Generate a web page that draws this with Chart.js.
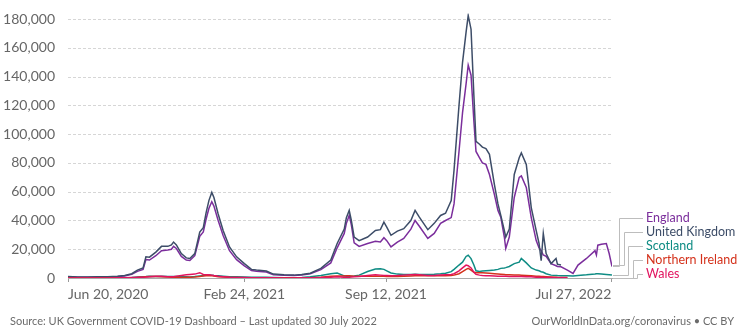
<!DOCTYPE html>
<html>
<head>
<meta charset="utf-8">
<script src="https://cdn.jsdelivr.net/npm/chart.js@4.4.1/dist/chart.umd.min.js"></script>
<style>
  html, body { margin: 0; padding: 0; background: #fff; }
  #wrap { width: 741px; height: 335px; }
</style>
</head>
<body>
<div id="wrap"><canvas id="casesChart" width="741" height="335"></canvas></div>
<script>
// days since Jun 20, 2020
const days = [0, 14, 28, 42, 56, 70, 80, 90, 98, 106,
  110, 115, 124, 132, 141, 146, 149, 153, 160, 167,
  172, 179, 186, 191, 195, 199, 203, 206, 212, 219,
  228, 238, 249, 259, 266, 280, 290, 305, 319, 330,
  342, 357, 371, 380, 390, 393, 397, 400, 404, 411,
  423, 434, 441, 446, 450, 456, 465, 474, 484, 490,
  496, 508, 517, 526, 533, 541, 545, 552, 557, 562,
  565, 569, 573, 576, 581, 585, 590, 595, 602, 607,
  611, 616, 618, 623, 630, 637, 640, 647, 654, 661,
  665, 668, 671, 675, 682, 689, 691, 696, 705, 713,
  720, 732, 744, 746, 748, 753, 760, 764, 768];

const ukCases = [1000, 700, 700, 800, 950, 1200, 1700, 3000, 5500, 7000,
  14700, 14500, 18000, 22000, 22000, 23000, 25000, 23000, 17000, 14000,
  13600, 17000, 32000, 35000, 45500, 54000, 59500, 56000, 44500, 33000,
  21600, 14700, 10000, 6000, 5500, 4800, 2700, 2200, 2000, 2400,
  3300, 6700, 12500, 24000, 34000, 42000, 47000, 40000, 28500, 26000,
  28500, 33000, 33600, 38800, 35400, 29700, 32600, 34300, 40000, 47000,
  42300, 33600, 38000, 43500, 45000, 53800, 75000, 120000, 150000, 171000,
  182500, 173000, 127000, 95000, 93000, 91000, 90000, 86000, 65000, 51500,
  43500, 33000, 28500, 34000, 72000, 83600, 87000, 79000, 49000, 33000,
  24000, 12000, 31000, 17000, 10000, 13600, 9500, 9000, null, null,
  null, null, null, null, null, null, null, null, null];

const englandCases = [800, 550, 550, 650, 800, 1000, 1400, 2500, 4600, 6000,
  12800, 12500, 15500, 19000, 19500, 20000, 22000, 20500, 15000, 12500,
  12200, 15500, 29000, 32000, 41000, 48500, 53000, 50000, 40000, 29500,
  19000, 12800, 8500, 5200, 4700, 4100, 2300, 1900, 1800, 2100,
  2900, 5800, 10500, 21000, 31000, 38000, 43500, 37000, 24500, 22000,
  24000, 25500, 25000, 28000, 26000, 21600, 25000, 27500, 34000, 40000,
  36000, 27500, 31000, 38000, 40000, 42000, 51500, 88000, 115000, 135000,
  148000, 141000, 109000, 88000, 83600, 80000, 79000, 72000, 58000, 47000,
  42300, 28500, 20500, 28500, 56000, 70000, 71000, 63000, 42000, 26000,
  21000, 19000, 16000, 15000, 10000, 8500, 8000, 7800, 5500, 3200,
  9000, 13600, 19000, 16000, 22800, 23500, 24000, 17000, 8000];

const scotlandCases = [30, 20, 20, 40, 60, 100, 200, 400, 700, 900,
  1000, 1200, 1100, 1200, 1100, 1100, 1100, 1000, 900, 800,
  700, 1000, 1400, 1700, 2000, 2100, 2000, 1800, 1500, 1200,
  900, 800, 650, 600, 550, 500, 350, 250, 250, 400,
  800, 1800, 3000, 3400, 1500, 1200, 1200, 1300, 1400, 2000,
  4500, 6200, 6500, 6000, 5000, 3500, 2700, 2400, 2500, 2600,
  2500, 2500, 2600, 2900, 3300, 4400, 6000, 9000, 11000, 15000,
  15900, 13500, 9000, 5000, 4500, 4800, 5000, 5200, 5500, 6000,
  6700, 7000, 7200, 8000, 10000, 11000, 13600, 10500, 7000, 5500,
  5000, 4400, 4000, 3000, 2000, 1800, 1700, 1600, 1500, 1400,
  1800, 2200, 2800, 3000, 3000, 2800, 2500, 2300, 2000];

const niCases = [10, 10, 20, 30, 50, 80, 120, 200, 400, 700,
  900, 1000, 1000, 900, 700, 600, 500, 450, 400, 450,
  500, 700, 1100, 1400, 1600, 1700, 1600, 1300, 900, 700,
  500, 400, 250, 200, 150, 120, 100, 90, 90, 120,
  200, 600, 1200, 1400, 1400, 1500, 1500, 1400, 1300, 1300,
  1300, 1300, 1200, 1200, 1100, 1000, 1100, 1300, 1400, 1500,
  1500, 1500, 1500, 1500, 1600, 1700, 2000, 3000, 4500, 6000,
  6700, 5500, 4000, 3700, 3700, 3600, 3500, 3300, 3000, 2800,
  2600, 2400, 2300, 2200, 2100, 2000, 1900, 1700, 1500, 1300,
  1200, 1100, 1000, 900, 700, 500, 450, 400, 300, null,
  null, null, null, null, null, null, null, null, null];

const walesCases = [30, 20, 20, 30, 40, 100, 150, 300, 500, 600,
  700, 900, 1200, 1200, 900, 800, 900, 1300, 1800, 2200,
  2400, 2700, 3700, 2500, 2200, 2300, 2000, 1700, 1200, 900,
  600, 400, 300, 250, 200, 150, 100, 80, 80, 100,
  150, 300, 600, 800, 500, 500, 600, 700, 900, 1100,
  1700, 2200, 2000, 1800, 1700, 1600, 1700, 2000, 2300, 2500,
  2300, 1800, 1800, 2000, 2200, 2500, 3000, 5000, 7000, 9000,
  8500, 7000, 4000, 2500, 2000, 1700, 1600, 1500, 1400, 1300,
  1300, 1200, 1200, 1100, 1100, 1000, 1000, 900, 800, 600,
  500, 500, 400, 400, 300, 250, 200, 200, 150, null,
  null, null, null, null, null, null, null, null, null];

const tickDays = [0, 249, 449, 767];
const tickLabels = ['Jun 20, 2020', 'Feb 24, 2021', 'Sep 12, 2021', 'Jul 27, 2022'];
const yTicks = [0, 20000, 40000, 60000, 80000, 100000, 120000, 140000, 160000, 180000];

const seriesNames = ['England', 'United Kingdom', 'Scotland', 'Northern Ireland', 'Wales'];
const seriesColors = ['#7b2e9c', '#3d4d68', '#0f8c84', '#d4321c', '#e2145f'];
const seriesValues = [englandCases, ukCases, scotlandCases, niCases, walesCases];
const labelY = [218, 231.5, 246, 259.5, 273.5];
const leaderX = [619, 623.5, 628, 633, 637];

function toPoints(values) {
    return days.map((d, i) => ({ x: d, y: values[i] }));
}

// dashed horizontal grid, drawn by hand so the dash pattern is exact
const dashedGrid = {
    id: 'dashedGrid',
    beforeDatasetsDraw(chart) {
        const ctx = chart.ctx;
        const area = chart.chartArea;
        const y = chart.scales.y;
        ctx.save();
        ctx.strokeStyle = '#d6d6d6';
        ctx.lineWidth = 1;
        ctx.setLineDash([3, 2]);
        yTicks.forEach(v => {
            if (v === 0) return;
            const py = Math.round(y.getPixelForValue(v)) + 0.5;
            ctx.beginPath();
            ctx.moveTo(area.left, py);
            ctx.lineTo(area.right, py);
            ctx.stroke();
        });
        ctx.restore();
    }
};

// end labels with leader lines + footer
const endLabels = {
    id: 'endLabels',
    afterDraw(chart) {
        const ctx = chart.ctx;
        const area = chart.chartArea;
        const y = chart.scales.y;
        ctx.save();
        ctx.strokeStyle = '#bdbdbd';
        ctx.lineWidth = 1;
        seriesValues.forEach((vals, i) => {
            let last = null;
            for (let k = vals.length - 1; k >= 0; k--) {
                if (vals[k] !== null) { last = vals[k]; break; }
            }
            const yEnd = Math.round(y.getPixelForValue(last)) + 0.5;
            const lx = Math.round(leaderX[i]) + 0.5;
            const ly = Math.round(labelY[i]) + 0.5;
            ctx.beginPath();
            ctx.moveTo(area.right + 1, yEnd);
            ctx.lineTo(lx, yEnd);
            ctx.lineTo(lx, ly);
            ctx.lineTo(643, ly);
            ctx.stroke();
            ctx.fillStyle = seriesColors[i];
            ctx.font = '12.5px Lato';
            ctx.textBaseline = 'middle';
            ctx.textAlign = 'left';
            ctx.fillText(seriesNames[i], 646, labelY[i]);
        });
        ctx.fillStyle = '#6b6b6b';
        ctx.font = '11px Lato';
        ctx.textBaseline = 'middle';
        ctx.textAlign = 'left';
        ctx.fillText('Source: UK Government COVID-19 Dashboard \u2013 Last updated 30 July 2022', 10, 321);
        ctx.textAlign = 'right';
        ctx.fillText('OurWorldInData.org/coronavirus \u2022 CC BY', 734, 321);
        ctx.restore();
    }
};

const casesCtx = document.getElementById('casesChart');
new Chart(casesCtx, {
    type: 'line',
    data: {
        datasets: seriesNames.map((name, i) => ({
            label: name,
            data: toPoints(seriesValues[i]),
            borderColor: seriesColors[i],
            backgroundColor: seriesColors[i],
            borderWidth: 1.5,
            pointRadius: 0,
            tension: 0,
            spanGaps: false,
            order: [4, 3, 2, 1, 0][i]
        }))
    },
    options: {
        responsive: false,
        animation: false,
        layout: {
            padding: { left: 0, right: 129, top: 11, bottom: 33 }
        },
        plugins: {
            legend: { display: false },
            tooltip: { enabled: false }
        },
        scales: {
            x: {
                type: 'linear',
                min: 0,
                max: 768,
                afterBuildTicks: (axis) => { axis.ticks = tickDays.map(v => ({ value: v })); },
                afterFit: (axis) => { axis.height = 24; },
                grid: {
                    drawOnChartArea: false,
                    drawTicks: true,
                    tickLength: 4,
                    color: '#999'
                },
                border: { display: true, color: '#aaa' },
                ticks: {
                    align: 'inner',
                    maxRotation: 0,
                    autoSkip: false,
                    padding: 4,
                    color: '#666',
                    font: { family: 'Lato', size: 14 },
                    callback: (v) => tickLabels[tickDays.indexOf(v)]
                }
            },
            y: {
                min: 0,
                max: 184000,
                afterBuildTicks: (axis) => { axis.ticks = yTicks.map(v => ({ value: v })); },
                afterFit: (axis) => { axis.width = 68; },
                grid: { display: false },
                border: { display: false },
                ticks: {
                    padding: 5,
                    color: '#666',
                    font: { family: 'Lato', size: 14 },
                    callback: (v) => v.toLocaleString('en-US')
                }
            }
        }
    },
    plugins: [dashedGrid, endLabels]
});
</script>
</body>
</html>
